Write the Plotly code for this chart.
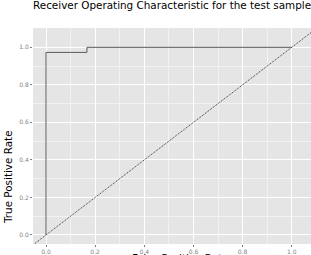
import plotly.graph_objects as go

# ROC curve data
fpr = [0.0, 0.0, 0.0, 0.1667, 0.1667, 1.0]
tpr = [0.0, 0.0, 0.973, 0.973, 1.0, 1.0]
# reference diagonal (chance line y = x)
diag = [-0.2, 1.2]
tick_vals = [0.0, 0.2, 0.4, 0.6, 0.8, 1.0]
tick_text = ["0.0", "0.2", "0.4", "0.6", "0.8", "1.0"]

fig = go.Figure()
fig.add_trace(go.Scatter(x=fpr, y=tpr, mode="lines",
                         line=dict(color="#595959", width=1), showlegend=False,
                         hoverinfo="skip"))
fig.add_trace(go.Scatter(x=diag, y=diag, mode="lines",
                         line=dict(color="#333333", width=1, dash="1px,1px"), showlegend=False,
                         hoverinfo="skip"))

axis_common = dict(
    showgrid=True, gridcolor="white", gridwidth=1,
    zeroline=False, showline=False, automargin=False,
    ticks="outside", ticklen=2, tickcolor="#7f7f7f", tickwidth=1,
    tickvals=tick_vals, ticktext=tick_text,
    tickfont=dict(family="DejaVu Sans", size=6, color="#7f7f7f"),
    minor=dict(showgrid=True, gridcolor="#F2F2F2", gridwidth=0.5, dtick=0.1, ticks=""),
)

fig.update_layout(
    width=311, height=255,
    margin=dict(l=33, r=0, t=28, b=11),
    paper_bgcolor="white", plot_bgcolor="#E5E5E5",
    title=dict(text="Receiver Operating Characteristic for the test sample",
               font=dict(family="DejaVu Sans", size=10.4, color="black"),
               xref="paper", x=0, xanchor="left",
               yref="container", y=0.995, yanchor="top", automargin=False),
    xaxis=dict(range=[-0.0529, 1.0785], **axis_common),
    yaxis=dict(range=[-0.048, 1.103], **axis_common),
    annotations=[
        dict(text="True Positive Rate", textangle=-90, xref="paper", yref="paper",
             x=-0.09, y=0.31, xanchor="center", yanchor="middle", showarrow=False,
             font=dict(family="DejaVu Sans", size=10.4, color="black")),
        dict(text="False Positive Rate", xref="paper", yref="paper",
             x=0.53, y=-0.027, xanchor="center", yanchor="top", showarrow=False,
             font=dict(family="DejaVu Sans", size=10.4, color="black")),
    ],
)

fig.write_html("out.html", config={"displayModeBar": False},
               post_script="document.body.style.margin='0';document.body.style.overflow='hidden';")
